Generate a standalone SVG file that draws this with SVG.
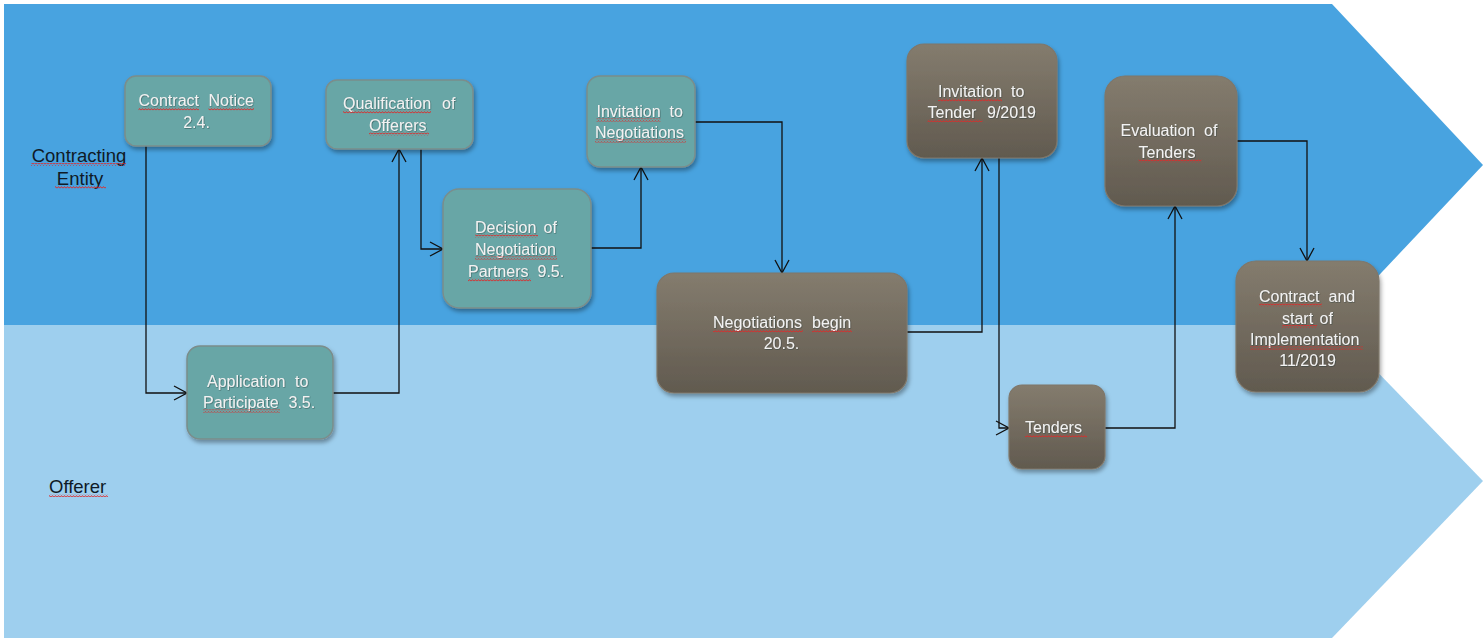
<svg xmlns="http://www.w3.org/2000/svg" width="1484" height="638" viewBox="0 0 1484 638">
<defs>
<style>
.lbl{font-family:"Liberation Sans",Arial,sans-serif;font-size:18.5px;fill:#0f1a26}
.nt{font-family:"Liberation Sans",Arial,sans-serif;font-size:16px;fill:#f2f2f2;filter:url(#ts)}
.teal{fill:#67a6a6;stroke:#7b8d8b;stroke-width:1.5;filter:url(#sh)}
.brown{fill:url(#bg);stroke:#7f776a;stroke-width:1.2;filter:url(#sh)}
.con{fill:none;stroke:#111;stroke-width:1.3;marker-end:url(#ah)}
.wv{fill:url(#wave)}
</style>
<linearGradient id="bg" x1="0" y1="0" x2="0" y2="1">
<stop offset="0" stop-color="#847c6e"/>
<stop offset="1" stop-color="#615a4f"/>
</linearGradient>
<filter id="sh" x="-10%" y="-10%" width="125%" height="130%">
<feDropShadow dx="1.5" dy="3" stdDeviation="2" flood-color="#000" flood-opacity="0.35"/>
</filter>
<filter id="ts" x="-5%" y="-20%" width="110%" height="140%">
<feDropShadow dx="0.6" dy="0.6" stdDeviation="0.4" flood-color="#203030" flood-opacity="0.6"/>
</filter>
<pattern id="wave" width="3" height="3" patternUnits="userSpaceOnUse">
<polyline points="0,2.4 1.5,0.6 3,2.4" fill="none" stroke="#e02828" stroke-width="1"/>
</pattern>
<marker id="ah" viewBox="0 0 15 16" refX="14" refY="8" markerWidth="15" markerHeight="16" markerUnits="userSpaceOnUse" orient="auto">
<path d="M1,1 L14,8 L1,15" fill="none" stroke="#111" stroke-width="1.3"/>
</marker>
</defs>
<rect width="1484" height="638" fill="#ffffff"/>
<g id="lanes">
<polygon points="4,4 1332,4 1483,165 1332,325 4,325" fill="#48a3e0"/>
<polygon points="4,325 1332,325 1483,481 1332,638 4,638" fill="#9ecfee"/>
</g>
<g id="lane-labels">
<text class="lbl" x="79" y="162" text-anchor="middle">Contracting</text>
<text class="lbl" x="80" y="185" text-anchor="middle">Entity</text>
<text class="lbl" x="49" y="493">Offerer</text>
<rect class="wv" x="31" y="163" width="95" height="3"/>
<rect class="wv" x="55" y="186" width="51" height="3"/>
<rect class="wv" x="49" y="494" width="59" height="3"/>
</g>
<g id="connectors">
<polyline class="con" points="146,146 146,393 187,393"/>
<polyline class="con" points="333,393 399,393 399,149"/>
<polyline class="con" points="421,149 421,249 443,249"/>
<polyline class="con" points="591,248 641,248 641,167"/>
<polyline class="con" points="695,122 782,122 782,273"/>
<polyline class="con" points="907,332 982,332 982,158"/>
<polyline class="con" points="999,158 999,428 1009,428"/>
<polyline class="con" points="1105,428 1175,428 1175,206"/>
<polyline class="con" points="1237,141 1307,141 1307,261"/>
</g>
<g id="n-contract-notice">
<rect class="teal" x="125" y="76" width="146" height="70" rx="11"/>
<text class="nt" y="106"><tspan x="138.5">Contract</tspan><tspan x="208.5">Notice</tspan></text>
<text class="nt" x="196.5" y="127.5" text-anchor="middle">2.4.</text>
<rect class="wv" x="138.5" y="107.5" width="60.5" height="3"/>
<rect class="wv" x="208.5" y="107.5" width="45.5" height="3"/>
</g>
<g id="n-qualification">
<rect class="teal" x="326" y="80" width="147" height="69" rx="11"/>
<text class="nt" y="109"><tspan x="343">Qualification</tspan><tspan x="442">of</tspan></text>
<text class="nt" x="369" y="131">Offerers</text>
<rect class="wv" x="343" y="110.5" width="88" height="3"/>
<rect class="wv" x="369" y="132.5" width="60" height="3"/>
</g>
<g id="n-decision">
<rect class="teal" x="443" y="189" width="148" height="119" rx="16"/>
<text class="nt" y="233"><tspan x="475">Decision</tspan><tspan x="543.5">of</tspan></text>
<text class="nt" x="475" y="255">Negotiation</text>
<text class="nt" y="277"><tspan x="468">Partners</tspan><tspan x="537.5">9.5.</tspan></text>
<rect class="wv" x="475" y="234.5" width="63" height="3"/>
<rect class="wv" x="475" y="256.5" width="82" height="3"/>
<rect class="wv" x="468" y="278.5" width="63" height="3"/>
</g>
<g id="n-invitation-negotiations">
<rect class="teal" x="587" y="76" width="108" height="91" rx="13"/>
<text class="nt" y="117"><tspan x="596.5">Invitation</tspan><tspan x="669.5">to</tspan></text>
<text class="nt" x="595" y="138">Negotiations</text>
<rect class="wv" x="596.5" y="118.5" width="64" height="3"/>
<rect class="wv" x="595" y="139.5" width="91" height="3"/>
</g>
<g id="n-application">
<rect class="teal" x="187" y="346" width="146" height="93" rx="13"/>
<text class="nt" y="387"><tspan x="207">Application</tspan><tspan x="295">to</tspan></text>
<text class="nt" y="408"><tspan x="203">Participate</tspan><tspan x="288.5">3.5.</tspan></text>
<rect class="wv" x="203" y="409.5" width="77" height="3"/>
</g>
<g id="n-negotiations-begin">
<rect class="brown" x="657" y="273" width="250" height="120" rx="17"/>
<text class="nt" y="328"><tspan x="713">Negotiations</tspan><tspan x="812">begin</tspan></text>
<text class="nt" x="781.5" y="348.5" text-anchor="middle">20.5.</text>
<rect class="wv" x="713" y="329.5" width="90" height="3"/>
<rect class="wv" x="812" y="329.5" width="40" height="3"/>
</g>
<g id="n-invitation-tender">
<rect class="brown" x="907" y="44" width="150" height="114" rx="17"/>
<text class="nt" y="97"><tspan x="938">Invitation</tspan><tspan x="1011">to</tspan></text>
<text class="nt" y="117.5"><tspan x="927.5">Tender</tspan><tspan x="987">9/2019</tspan></text>
<rect class="wv" x="938" y="98.5" width="64" height="3"/>
<rect class="wv" x="927.5" y="119" width="55" height="3"/>
</g>
<g id="n-tenders">
<rect class="brown" x="1009" y="385" width="96" height="84" rx="13"/>
<text class="nt" x="1025" y="433">Tenders</text>
<rect class="wv" x="1025" y="434.5" width="62" height="3"/>
</g>
<g id="n-evaluation">
<rect class="brown" x="1105" y="76" width="132" height="130" rx="20"/>
<text class="nt" y="136"><tspan x="1120.5">Evaluation</tspan><tspan x="1204">of</tspan></text>
<text class="nt" x="1138.5" y="158">Tenders</text>
<rect class="wv" x="1138.5" y="159.5" width="63" height="3"/>
</g>
<g id="n-contract-start">
<rect class="brown" x="1236" y="261" width="143" height="131" rx="20"/>
<text class="nt" y="302"><tspan x="1259">Contract</tspan><tspan x="1328.5">and</tspan></text>
<text class="nt" y="323.5"><tspan x="1282">start</tspan><tspan x="1319.5">of</tspan></text>
<text class="nt" x="1250" y="345">Implementation</text>
<text class="nt" x="1307.5" y="365.5" text-anchor="middle">11/2019</text>
<rect class="wv" x="1259" y="303.5" width="63" height="3"/>
<rect class="wv" x="1282" y="325" width="35" height="3"/>
<rect class="wv" x="1250" y="346.5" width="113" height="3"/>
</g>
</svg>
